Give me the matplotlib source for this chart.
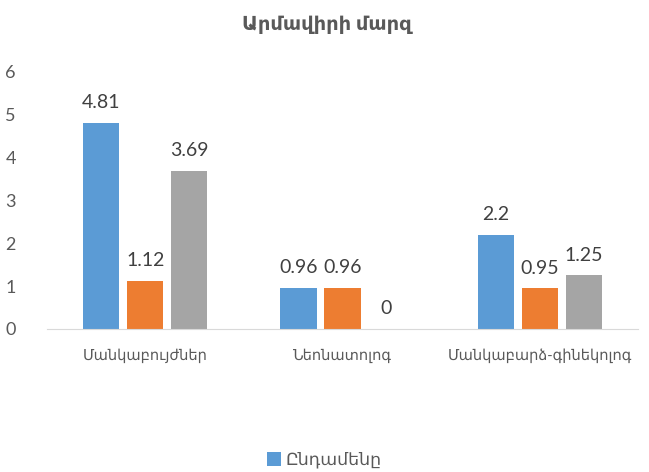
import matplotlib.pyplot as plt
import numpy as np

plt.rcParams['font.family'] = ['Lato', 'DejaVu Sans']

categories = ["Մանկաբույժներ", "Նեոնատոլոգ", "Մանկաբարձ-գինեկոլոգ"]
total = [4.81, 0.96, 2.2]
series2 = [1.12, 0.96, 0.95]
series3 = [3.69, 0, 1.25]
series_names = ["Ընդամենը", "", ""]
colors = ["#5B9BD5", "#ED7D31", "#A5A5A5"]
text_color = "#595959"

x = np.arange(len(categories))
width = 0.183
step = 0.223

fig = plt.figure(figsize=(6.49, 4.72), dpi=100)
ax = fig.add_axes([0.0717, 0.303, 0.912, 0.5445])

handles = []
for i, (vals, c) in enumerate(zip([total, series2, series3], colors)):
    bars = ax.bar(x + (i - 1) * step, vals, width, color=c)
    handles.append(bars)
    for b, v in zip(bars, vals):
        ax.text(b.get_x() + b.get_width() / 2, v + 0.27, f"{v:g}",
                ha='center', va='bottom', fontsize=14, color="#404040")

ax.set_xlim(-0.5, 2.5)
ax.set_ylim(0, 6)
ax.set_yticks(range(7))
ax.set_xticks(x)
ax.set_xticklabels(categories, fontsize=10.5, color=text_color)
ax.tick_params(axis='y', labelsize=13, labelcolor=text_color, length=0, pad=22)
ax.tick_params(axis='x', length=0, pad=14)
for s in ['top', 'right', 'left']:
    ax.spines[s].set_visible(False)
ax.spines['bottom'].set_color("#D9D9D9")

fig.text(0.503, 0.947, "Արմավիրի մարզ", ha='center', va='center',
         fontsize=14, fontweight='bold', color=text_color)

fig.legend([handles[0]], [series_names[0]], loc='center', bbox_to_anchor=(0.5, 0.025),
           frameon=False, fontsize=12.5, handlelength=0.8, handleheight=0.8,
           handletextpad=0.3, labelcolor=text_color)

plt.savefig('out.png', dpi=100)
